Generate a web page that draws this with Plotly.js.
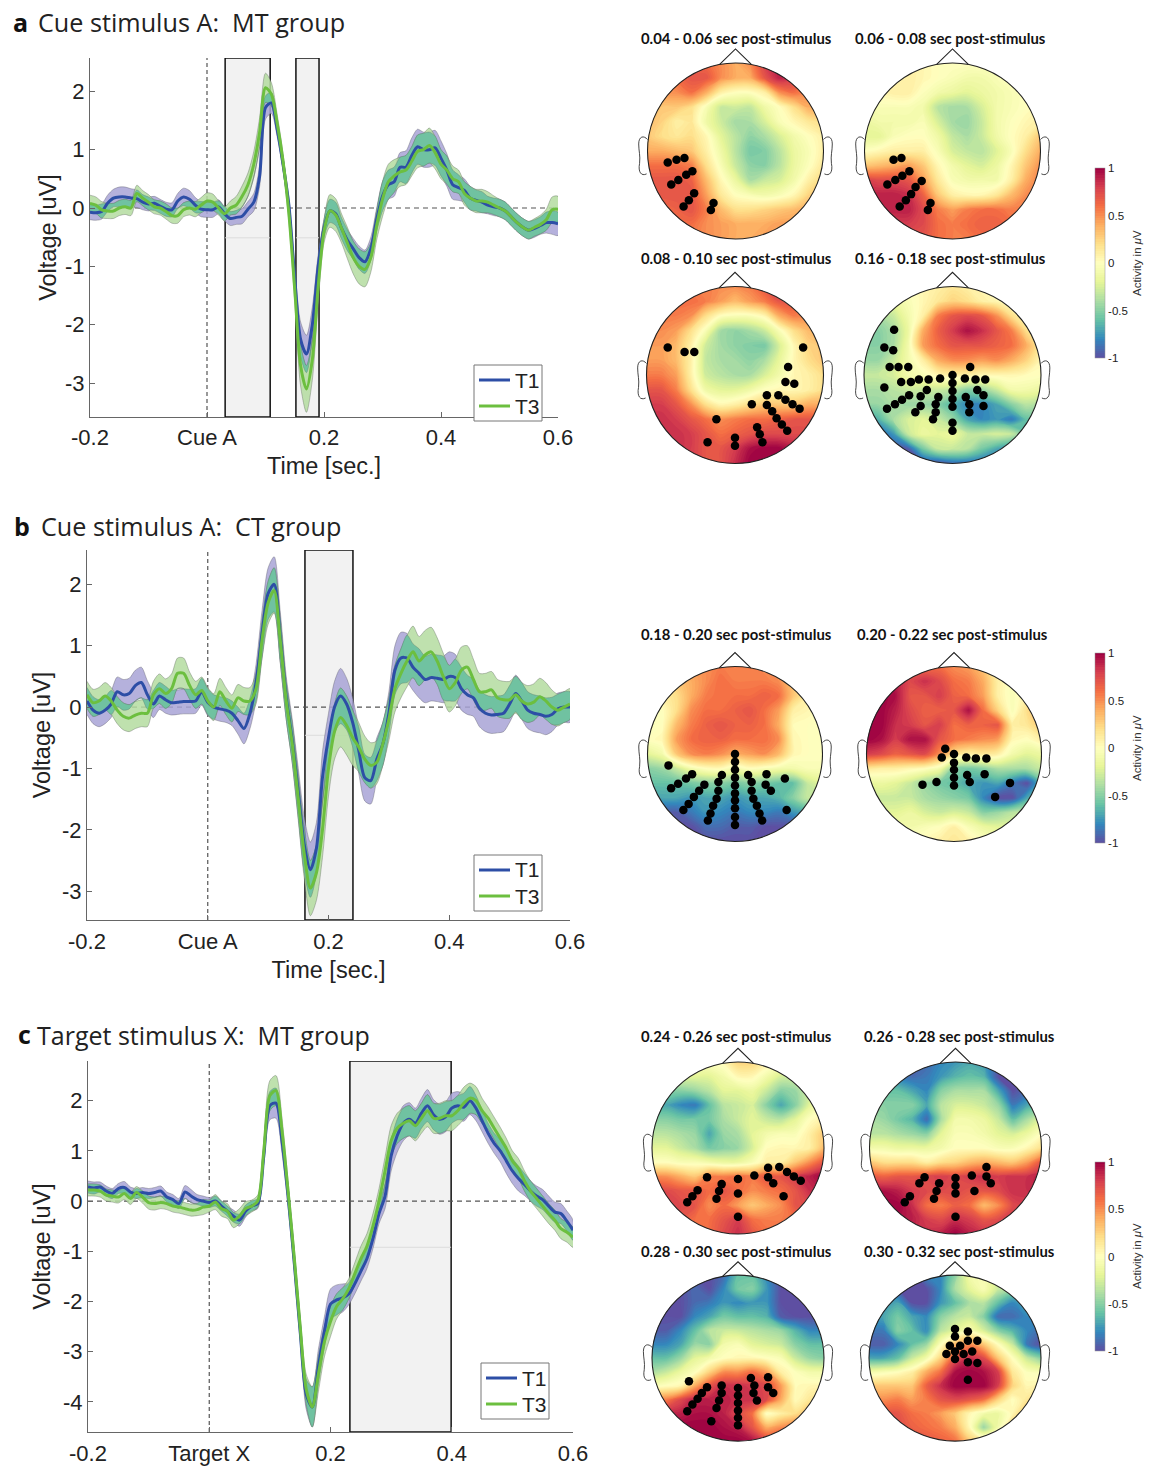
<!DOCTYPE html>
<html><head><meta charset="utf-8">
<script src="https://cdn.plot.ly/plotly-3.0.1.min.js"></script>
<style>html,body{margin:0;padding:0;background:#fff}</style></head>
<body><div id="chart" style="width:1157px;height:1466px"></div>
<script>
const times=[-.20,-.19,-.18,-.17,-.16,-.15,-.14,-.13,-.12,-.11,-.10,-.09,-.08,-.07,-.06,-.05,-.04,-.03,-.02,-.01,0,.01,.02,.03,.04,.05,.06,.07,.08,.09,.10,.11,.12,.13,.14,.15,.16,.17,.18,.19,.20,.21,.22,.23,.24,.25,.26,.27,.28,.29,.30,.31,.32,.33,.34,.35,.36,.37,.38,.39,.40,.41,.42,.43,.44,.45,.46,.47,.48,.49,.50,.51,.52,.53,.54,.55,.56,.57,.58,.59,.60];
// Panel a
const aT1=[-.07,-.08,-.06,.08,.17,.19,.19,.17,.16,.10,.07,.08,.03,-.02,-.03,.12,.19,.15,.05,-.02,-.03,-.03,.02,-.10,-.18,-.16,-.14,-.02,.10,.55,1.72,1.80,1.35,.75,.05,-1.2,-2.25,-2.5,-2.0,-1.0,-.35,-.05,-.1,-.35,-.55,-.7,-.85,-.92,-.7,-.2,.2,.4,.45,.7,.7,.9,1.05,1.0,1.0,1.03,.85,.65,.4,.35,.3,.17,.13,.1,.05,.02,0,-.05,-.15,-.25,-.33,-.38,-.35,-.3,-.25,-.25,-.27];
const aT3=[.08,.05,-.03,-.05,-.05,0,.02,0,.25,.17,.1,.02,0,-.06,-.13,-.13,-.03,0,-.02,.05,.12,.1,0,-.1,0,.05,.2,.4,.75,1.3,2.06,1.95,1.45,.8,-.1,-1.4,-2.7,-3.1,-2.6,-1.35,-.4,-.05,-.12,-.35,-.6,-.85,-1.0,-1.05,-.85,-.3,.15,.45,.55,.62,.65,.8,.97,1.0,1.07,.95,.75,.65,.5,.45,.25,.17,.12,.12,.1,.05,0,-.05,-.15,-.25,-.33,-.38,-.33,-.28,-.2,-.03,-.02];
const aErrT1=[.13,.13,.13,.14,.15,.17,.17,.16,.15,.13,.12,.12,.12,.12,.12,.13,.15,.15,.13,.13,.13,.13,.12,.12,.12,.12,.13,.13,.15,.18,.2,.18,.13,.12,.12,.2,.3,.32,.3,.2,.15,.2,.2,.18,.18,.18,.2,.2,.2,.2,.25,.25,.25,.25,.28,.3,.3,.3,.3,.3,.3,.28,.25,.22,.2,.2,.18,.18,.15,.15,.15,.15,.15,.15,.15,.15,.15,.15,.18,.2,.2];
const aErrT3=[.14,.14,.14,.13,.13,.13,.13,.13,.14,.13,.13,.12,.12,.13,.13,.13,.12,.12,.13,.13,.14,.14,.12,.12,.12,.15,.18,.2,.22,.25,.25,.2,.15,.13,.13,.2,.35,.4,.35,.28,.2,.28,.28,.25,.27,.28,.3,.3,.25,.25,.3,.3,.28,.25,.25,.25,.28,.28,.3,.28,.25,.24,.22,.2,.2,.2,.2,.2,.18,.16,.15,.15,.15,.15,.15,.15,.15,.16,.18,.22,.22];
// Panel b
const bT1=[.1,-.05,-.1,-.05,.05,.25,.2,.22,.35,.4,.2,.05,.18,.12,.07,.08,.09,.09,.1,.25,.08,0,-.03,-.05,-.1,-.22,-.35,-.1,.4,1.2,1.85,2.0,1.15,.15,-.55,-1.4,-2.25,-2.65,-2.3,-1.15,-.5,0,.18,.05,-.25,-.7,-1.15,-1.2,-.85,-.6,-.1,.6,.8,.8,.65,.55,.45,.48,.47,.45,.5,.48,.3,.2,.15,-.02,-.1,-.13,-.12,-.1,.05,.22,.1,-.05,-.1,-.12,-.15,-.12,-.03,0,0];
const bT3=[.2,.07,.1,.18,.1,-.05,-.15,-.18,-.13,-.1,-.1,.2,.3,.22,.3,.55,.55,.35,.2,.27,.1,0,.25,.1,-.02,.15,.1,.1,.3,1.1,1.7,1.9,1.1,.1,-.6,-1.5,-2.4,-2.95,-2.7,-2.0,-1.0,-.4,-.17,-.3,-.5,-.65,-.85,-.95,-.9,-.6,-.2,.3,.55,.75,.9,.75,.85,.9,.75,.5,.3,.4,.6,.65,.45,.25,.25,.28,.15,.12,.12,.2,.1,.05,.08,.17,.1,0,-.05,0,.05];
const bErrT1=[.22,.22,.22,.22,.22,.24,.25,.25,.25,.25,.23,.22,.22,.22,.2,.2,.2,.2,.2,.22,.22,.2,.2,.2,.2,.22,.25,.25,.3,.38,.42,.45,.42,.35,.35,.4,.45,.45,.42,.42,.4,.42,.45,.42,.4,.38,.38,.38,.35,.35,.35,.4,.42,.4,.38,.4,.38,.38,.38,.38,.4,.38,.35,.32,.3,.3,.3,.3,.3,.3,.3,.3,.3,.3,.3,.3,.3,.28,.26,.25,.25];
const bErrT3=[.22,.22,.22,.22,.22,.22,.22,.22,.22,.22,.22,.22,.24,.24,.24,.25,.25,.22,.22,.22,.22,.22,.22,.22,.22,.22,.22,.22,.25,.3,.35,.37,.35,.3,.32,.35,.4,.45,.45,.45,.45,.45,.48,.48,.45,.4,.38,.37,.35,.35,.35,.38,.4,.42,.42,.4,.4,.4,.38,.38,.38,.38,.38,.35,.33,.3,.3,.3,.3,.3,.3,.3,.3,.3,.3,.3,.3,.28,.26,.25,.25];
// Panel c
const cT1=[.28,.26,.28,.2,.15,.25,.27,.18,.15,.17,.15,.17,.2,.08,.03,-.05,.18,.1,.03,0,-.03,0,-.1,-.2,-.3,-.38,-.2,-.1,-.05,.9,1.9,1.95,1.2,.1,-1.2,-2.6,-3.85,-4.1,-3.3,-2.6,-2.05,-1.97,-1.93,-1.85,-1.65,-1.4,-1.15,-.75,-.25,.1,.9,1.3,1.55,1.63,1.55,1.75,1.9,1.72,1.63,1.68,1.85,1.9,1.87,2.0,1.85,1.6,1.35,1.15,1.0,.8,.6,.45,.33,.2,.1,.03,-.1,-.22,-.25,-.4,-.58];
const cT3=[.22,.22,.2,.12,.1,.08,.15,.05,.17,.08,-.03,-.05,-.03,-.05,-.1,-.12,-.15,-.18,-.17,-.12,-.1,-.02,-.15,-.2,-.38,-.3,-.15,-.1,0,1.0,2.1,2.2,1.4,.2,-1.1,-2.5,-3.75,-4.1,-3.45,-2.8,-2.4,-2.1,-1.95,-1.75,-1.45,-1.15,-.9,-.5,0,.6,1.2,1.45,1.55,1.6,1.5,1.65,1.8,1.65,1.65,1.7,1.7,1.8,1.95,2.05,2.0,1.8,1.65,1.45,1.25,1.05,.8,.65,.4,.2,.05,-.1,-.25,-.38,-.55,-.62,-.72];
const cErrT1=[.12,.12,.1,.1,.1,.1,.12,.1,.1,.1,.1,.1,.1,.1,.1,.1,.13,.13,.1,.1,.1,.1,.1,.1,.12,.12,.12,.1,.1,.15,.28,.3,.25,.2,.2,.2,.3,.4,.35,.3,.3,.3,.28,.22,.2,.2,.2,.2,.2,.25,.3,.33,.35,.33,.3,.3,.32,.3,.3,.3,.3,.28,.28,.28,.25,.22,.2,.2,.22,.25,.25,.25,.22,.2,.2,.2,.2,.2,.2,.2,.2];
const cErrT3=[.12,.12,.12,.12,.12,.12,.12,.12,.12,.12,.13,.13,.12,.12,.12,.12,.12,.12,.12,.15,.12,.15,.15,.15,.15,.15,.14,.12,.12,.2,.3,.3,.25,.2,.2,.2,.3,.4,.35,.3,.3,.25,.22,.2,.22,.25,.25,.25,.25,.28,.3,.3,.3,.3,.3,.3,.32,.3,.3,.3,.3,.3,.32,.3,.28,.25,.22,.22,.22,.2,.2,.2,.2,.2,.2,.2,.2,.2,.2,.2,.2];

const seriesNames=['T1','T3'];
const xTickVals=[-.2,0,.2,.4,.6];
const yTicksAB=[-3,-2,-1,0,1,2];
const yTicksC=[-4,-3,-2,-1,0,1,2];

// Topographies: rows run from the front of the head (top) to the back (bottom), columns left to right
const topoGrid=[-1,-.833,-.667,-.5,-.333,-.167,0,.167,.333,.5,.667,.833,1];
const map1=[
[.5,.5,.5,.6,.6,.5,.4,.5,.8,.9,.8,.5,.5],
[.5,.5,.6,.7,.7,.5,.4,.4,.7,.9,.8,.5,.5],
[.5,.5,.5,.6,.4,.1,0,0,.1,.5,.6,.5,.4],
[.4,.3,.3,.2,-.05,-.3,-.28,-.32,-.12,0,.2,.4,.4],
[.35,.25,.1,.15,-.12,-.28,-.42,-.4,-.25,-.05,.05,.15,.2],
[.3,.2,.15,.2,.05,-.2,-.35,-.48,-.4,-.25,-.1,0,.1],
[.4,.4,.35,.3,.1,-.12,-.35,-.55,-.52,-.35,-.15,-.05,.1],
[.6,.6,.6,.55,.2,-.05,-.3,-.48,-.5,-.35,-.15,-.02,.15],
[.7,.7,.7,.65,.35,.05,-.15,-.4,-.3,-.25,-.1,.1,.25],
[.7,.7,.7,.7,.45,.15,0,-.05,-.1,-.05,.05,.25,.4],
[.6,.6,.65,.7,.55,.35,.2,.2,.25,.3,.35,.4,.45],
[.5,.5,.6,.6,.5,.45,.4,.4,.4,.45,.45,.5,.5],
[.5,.5,.5,.55,.5,.45,.4,.4,.45,.45,.5,.5,.5]];
const map2=[
[.1,.1,.1,.1,.05,0,0,0,0,-.05,0,.05,.1],
[.1,.1,.1,.1,.05,0,-.05,-.1,-.1,-.05,0,.05,.1],
[0,.05,.1,.1,-.02,-.1,-.15,-.2,-.15,-.1,-.05,0,.05],
[-.1,-.05,-.05,-.05,-.1,-.35,-.42,-.4,-.25,-.1,-.05,0,.05],
[-.15,-.1,-.1,-.1,-.05,-.25,-.42,-.45,-.3,-.1,-.02,.05,.1],
[-.2,-.2,-.05,0,0,-.12,-.32,-.4,-.3,-.12,0,.1,.3],
[0,.05,.1,.1,.1,-.05,-.25,-.32,-.35,-.22,-.05,.2,.4],
[.3,.35,.4,.45,.3,.05,-.1,-.2,-.25,-.15,.05,.3,.5],
[.8,.75,.75,.7,.45,.15,-.05,-.1,-.1,-.1,.1,.4,.55],
[.9,.9,.9,.85,.65,.3,.1,.05,.05,.15,.35,.5,.6],
[.9,.9,.9,.9,.75,.55,.45,.55,.6,.6,.55,.55,.6],
[.8,.8,.8,.8,.75,.6,.55,.6,.65,.65,.6,.6,.6],
[.7,.7,.7,.7,.7,.6,.55,.55,.6,.6,.6,.6,.6]];
const map3=[
[.6,.6,.6,.55,.55,.5,.5,.55,.7,.75,.7,.6,.6],
[.6,.6,.6,.6,.55,.45,.35,.45,.55,.7,.7,.6,.55],
[.55,.55,.55,.5,.2,0,-.05,-.05,.05,.4,.55,.5,.45],
[.5,.5,.45,.2,-.05,-.42,-.48,-.42,-.3,-.05,.2,.35,.4],
[.45,.45,.35,.1,-.28,-.42,-.48,-.52,-.55,-.25,.05,.25,.3],
[.45,.45,.35,.1,-.32,-.4,-.42,-.48,-.4,-.18,.05,.2,.3],
[.55,.55,.45,.1,-.28,-.35,-.4,-.4,-.25,-.1,.05,.1,.2],
[.7,.7,.55,.2,-.12,-.2,-.2,-.12,0,.05,.05,.1,.2],
[.8,.8,.7,.5,.2,.05,.1,.2,.3,.3,.3,.4,.4],
[.85,.85,.8,.7,.6,.5,.55,.6,.6,.65,.7,.7,.7],
[.85,.85,.85,.8,.7,.6,.65,.7,.75,.75,.75,.75,.75],
[.85,.85,.85,.8,.7,.7,.8,.95,1,1,.9,.8,.8],
[.8,.8,.8,.8,.7,.7,.85,1,1,1,.9,.85,.8]];
const map4=[
[0,0,0,0,.05,.1,.15,.1,.05,0,0,0,0],
[-.2,-.2,-.15,-.05,.05,.15,.25,.2,.1,.05,0,0,0],
[-.4,-.4,-.3,-.1,.1,.55,.7,.75,.7,.5,.2,.05,0],
[-.5,-.5,-.4,-.15,.4,.65,.8,.95,.85,.7,.55,.2,.05],
[-.5,-.5,-.4,-.1,.45,.6,.7,.7,.7,.65,.6,.4,.1],
[-.45,-.45,-.3,-.1,.1,.4,.5,.5,.45,.5,.4,.25,.05],
[-.3,-.3,-.25,-.1,-.05,.05,.1,.1,.05,.05,.05,.02,0],
[-.4,-.4,-.35,-.3,-.3,-.3,-.35,-.5,-.45,-.3,-.1,-.1,-.15],
[-.45,-.45,-.4,-.45,-.45,-.5,-.65,-.8,-.8,-.7,-.5,-.35,-.4],
[-.8,-.65,-.4,-.25,-.2,-.3,-.45,-.7,-.8,-.75,-.85,-.6,-.6],
[-1,-.95,-.75,-.3,-.15,-.2,-.15,-.3,-.3,-.25,-.3,-.6,-.8],
[-1,-1,-1,-.95,-.55,-.3,-.3,-.35,-.55,-.7,-.85,-.9,-.9],
[-1,-1,-1,-1,-1,-1,-.9,-.9,-.9,-.9,-.9,-.9,-.9]];
const map5=[
[.4,.4,.4,.45,.5,.55,.55,.55,.5,.4,.3,.1,0],
[.1,.2,.3,.4,.5,.6,.55,.55,.55,.5,.3,.1,0],
[0,.1,.2,.4,.55,.6,.6,.6,.65,.6,.3,.1,0],
[-.05,0,.2,.5,.6,.6,.65,.7,.6,.45,.1,.05,0],
[-.05,0,.35,.55,.65,.7,.65,.65,.6,.4,.02,0,0],
[0,.05,.45,.6,.65,.65,.6,.6,.6,.5,.05,0,0],
[-.2,-.1,.3,.5,.55,.5,.4,.45,.5,.35,.05,0,0],
[-.5,-.45,-.3,-.1,0,.02,-.1,0,-.05,-.1,-.1,-.05,-.05],
[-.6,-.6,-.6,-.55,-.5,-.5,-.55,-.5,-.55,-.6,-.6,-.3,-.2],
[-.75,-.7,-.7,-.75,-.7,-.7,-.75,-.7,-.7,-.65,-.5,-.3,-.3],
[-1,-.95,-.95,-.85,-.75,-.8,-.85,-.8,-.8,-.85,-.75,-.7,-.7],
[-1,-1,-1,-1,-.9,-.9,-.95,-.95,-1,-1,-1,-.95,-.9],
[-1,-1,-1,-1,-1,-1,-1,-1,-1,-1,-1,-1,-1]];
const map6=[
[1,1,.9,.7,.6,.6,.5,.45,.3,.05,0,.05,.05],
[1,1,.9,.75,.85,.75,.6,.55,.4,.1,-.05,.05,.1],
[1,1,.95,.7,.7,.8,.65,.6,.45,.1,-.05,.1,.3],
[1,1,.9,.75,.65,.65,.7,.95,.6,.25,-.05,.2,.4],
[1,1,.85,.8,.7,.8,.6,.65,.65,.7,.1,.15,.3],
[1,.95,.8,.95,.95,.7,.6,.55,.5,.45,.05,0,.1],
[.8,.75,.65,.7,.75,.5,.2,.1,.15,.1,-.1,-.2,-.15],
[.15,.1,.1,.05,0,-.1,-.5,-.55,-.5,-.4,-.4,-.4,-.3],
[-.2,-.15,-.2,-.3,-.45,-.55,-.6,-.7,-.75,-.7,-.85,-1,-.6],
[-.3,-.3,-.3,-.3,-.4,-.45,-.5,-.55,-.8,-1,-1,-.7,-.5],
[-.2,-.2,-.2,-.15,-.25,-.3,-.25,-.3,-.5,-.45,-.35,-.3,-.2],
[-.1,-.1,-.1,-.1,-.05,0,.1,-.05,-.15,-.2,-.2,-.15,-.1],
[-.05,-.05,-.05,0,.05,.1,.15,.1,0,-.05,-.05,-.05,-.05]];
const map7=[
[.1,.1,.1,0,0,.05,.25,.25,.1,0,-.1,-.1,-.1],
[-.2,-.2,-.2,-.2,-.2,-.1,.05,.05,-.1,-.25,-.25,-.2,-.1],
[-.5,-.5,-.5,-.45,-.35,-.2,-.2,-.15,-.3,-.5,-.45,-.25,-.1],
[-.7,-.7,-.8,-.85,-.6,-.35,-.3,-.25,-.5,-.7,-.5,-.2,-.05],
[-.5,-.5,-.55,-.55,-.55,-.4,-.3,-.2,-.3,-.35,-.2,0,.1],
[-.35,-.35,-.4,-.45,-.7,-.45,-.4,-.2,-.1,-.05,-.05,.1,.3],
[-.2,-.2,-.3,-.4,-.55,-.5,-.45,-.25,.02,.05,.05,.1,.35],
[0,0,-.05,-.05,-.1,-.15,-.15,-.05,.1,.1,.3,.5,.7],
[.5,.5,.4,.3,.55,.55,.6,.55,.7,.7,.8,.9,1],
[.8,.75,.7,.7,.6,.7,.6,.5,.55,.6,.7,.85,.9],
[.8,.8,.75,.7,.5,.6,.45,.3,.4,.5,.7,.75,.7],
[.8,.8,.7,.6,.6,.7,.8,.6,.55,.55,.6,.6,.6],
[.7,.7,.7,.6,.6,.75,.85,.7,.6,.6,.6,.6,.6]];
const map8=[
[-.9,-.9,-.9,-.9,-.9,-.8,-.75,-.7,-.75,-.9,-1,-1,-1],
[-.8,-.8,-.85,-.9,-.85,-.75,-.65,-.6,-.65,-1,-1,-1,-1],
[-.6,-.6,-.6,-.7,-.8,-.5,-.4,-.4,-.4,-.7,-1,-.9,-.7],
[-.5,-.5,-.5,-.5,-.7,-.35,-.25,-.25,-.3,-.45,-.85,-.7,-.6],
[-.4,-.45,-.55,-.65,-.9,-.4,-.1,-.1,-.15,-.3,-.6,-.4,-.2],
[-.35,-.35,-.4,-.45,-.5,-.2,-.05,-.05,-.1,-.2,-.25,-.15,0],
[-.1,-.1,-.15,-.15,-.15,-.1,0,0,0,-.05,-.05,.05,.2],
[.3,.2,.2,.2,.1,.2,.25,.35,.4,.35,.3,.45,.7],
[.7,.65,.7,.7,.75,.8,.75,.8,.85,.8,.85,.85,.9],
[.95,.95,.9,.8,.75,.75,.75,.7,.7,.75,.85,.85,.9],
[1,1,1,.85,.6,.55,.65,.6,.35,.5,.75,.8,.8],
[.9,.9,.95,.9,.8,.75,.85,.8,.7,.75,.8,.8,.8],
[.85,.85,.85,.85,.85,.9,1,.9,.85,.85,.85,.85,.85]];
const map9=[
[-1,-1,-1,-1,-1,-.9,-.6,-.6,-.8,-1,-1,-1,-1],
[-1,-1,-1,-.9,-1,-.8,-.55,-.5,-.75,-1,-1,-1,-1],
[-1,-1,-1,-.9,-.85,-.75,-.8,-.75,-.75,-1,-1,-1,-1],
[-1,-1,-1,-.8,-.7,-.55,-.6,-.6,-.65,-.95,-1,-1,-1],
[-.95,-.95,-.8,-.6,-.35,-.3,-.3,-.35,-.4,-.45,-.65,-.8,-.8],
[-.8,-.8,-.7,-.45,-.5,-.1,-.05,-.2,-.25,-.3,-.5,-.6,-.6],
[-.6,-.6,-.45,-.2,-.1,0,.05,.05,0,-.05,-.3,-.45,-.5],
[-.4,-.3,-.15,-.02,.25,.5,.5,.6,.45,.1,-.02,-.1,-.1],
[-.05,0,.05,.4,.7,.85,.85,.8,.75,.45,.02,.05,.05],
[.5,.55,.75,.9,.9,.9,.85,.85,.75,.4,.02,.15,.2],
[.9,.9,.9,.95,.95,.9,.75,.6,-.02,.1,.2,.35,.35],
[1,1,1,1,1,.95,.9,.7,.4,.5,.6,.6,.6],
[1,1,1,1,1,1,1,.95,.8,.8,.8,.8,.8]];
const map10=[
[-1,-1,-1,-1,-.8,-.8,-.5,-.1,-.05,-.3,-.5,-.5,-.5],
[-1,-1,-1,-1,-1,-.8,-.4,-.2,-.05,-.3,-.45,-.5,-.5],
[-.7,-.75,-.7,-1,-1,-.75,-.6,-.4,-.35,-.6,-.8,-.7,-.6],
[-.7,-.7,-.55,-.7,-.8,-.5,-.35,-.3,-.5,-.9,-.9,-.8,-.8],
[-.85,-.85,-.5,-.6,-.8,-.35,-.2,-.05,-.25,-.5,-.65,-.8,-.9],
[-.95,-.95,-.8,-.6,-.45,-.02,.35,.5,.3,0,-.3,-.85,-1],
[-.7,-.7,-.6,-.3,-.1,.25,.7,.85,.75,.3,0,-.3,-.5],
[-.1,-.05,0,.1,.4,.6,.95,1,.95,.8,.15,-.02,-.05],
[.3,.3,.3,.3,.65,.85,1,1,1,.8,.25,.05,.1],
[.5,.5,.55,.45,.55,.7,.75,.7,.6,.25,0,.15,.25],
[.65,.7,.7,.6,.55,.45,.3,.05,-.1,-.15,.05,.35,.4],
[.8,.8,.75,.65,.6,.55,.4,.05,-.45,-.1,.3,.45,.5],
[.8,.8,.8,.75,.7,.65,.6,.3,.2,.3,.5,.6,.6]];

// Significant electrodes in head units
const elec1=[[-.77,-.13],[-.67,-.1],[-.58,-.08],[-.73,-.38],[-.65,-.33],[-.56,-.27],[-.49,-.23],[-.47,-.48],[-.53,-.56],[-.59,-.63],[-.25,-.59],[-.28,-.67]];
const elec2=[[-.67,-.1],[-.58,-.08],[-.74,-.38],[-.65,-.33],[-.57,-.28],[-.49,-.23],[-.35,-.34],[-.42,-.41],[-.47,-.49],[-.53,-.56],[-.6,-.63],[-.25,-.59],[-.28,-.67]];
const elec3=[[-.76,.31],[-.57,.26],[-.46,.26],[.77,.31],[.6,.09],[.57,-.08],[.67,-.1],[.36,-.23],[.49,-.23],[.57,-.28],[.65,-.33],[.73,-.38],[.19,-.33],[.36,-.34],[.42,-.41],[.47,-.49],[.53,-.56],[.59,-.63],[.25,-.59],[.28,-.67],[.31,-.76],[-.21,-.5],[-.31,-.76],[0,-.71],[0,-.8]];
const elec4=[[-.66,.51],[-.77,.31],[-.67,.28],[-.71,.09],[-.61,.09],[-.5,.09],[.2,.09],[0,0],[0,-.09],[0,-.18],[0,-.27],[0,-.36],[0,-.54],[0,-.63],[-.58,-.08],[-.47,-.08],[-.38,-.05],[-.27,-.05],[-.14,-.04],[.14,-.04],[.26,-.05],[.37,-.05],[-.77,-.14],[-.29,-.17],[.28,-.17],[-.49,-.23],[-.36,-.24],[-.16,-.25],[.15,-.25],[.35,-.23],[-.57,-.28],[-.65,-.33],[-.74,-.38],[-.36,-.35],[-.19,-.33],[.19,-.33],[.35,-.35],[-.42,-.42],[-.19,-.42],[.19,-.42],[-.22,-.5]];
const elec5=[[-.76,-.13],[-.73,-.39],[-.65,-.34],[-.56,-.28],[-.49,-.23],[-.15,-.24],[0,0],[0,-.09],[0,-.18],[0,-.27],[0,-.36],[0,-.45],[0,-.53],[0,-.62],[0,-.72],[0,-.81],[.15,-.24],[.36,-.23],[.57,-.28],[.19,-.32],[.35,-.35],[.41,-.42],[-.35,-.35],[-.41,-.42],[-.47,-.49],[-.53,-.57],[-.59,-.64],[-.19,-.32],[-.19,-.42],[-.21,-.51],[-.25,-.59],[-.28,-.68],[-.31,-.76],[.19,-.42],[.21,-.51],[.25,-.59],[.28,-.68],[.31,-.76],[.59,-.64]];
const elec6=[[-.1,.06],[-.14,-.04],[0,0],[0,-.1],[0,-.18],[0,-.27],[0,-.36],[.14,-.04],[.25,-.05],[.37,-.05],[.15,-.24],[.35,-.23],[.18,-.32],[-.36,-.35],[-.2,-.32],[.64,-.33],[.47,-.49]];
const elec7=[[-.36,-.34],[-.47,-.49],[-.53,-.56],[-.59,-.63],[-.19,-.42],[-.22,-.5],[-.25,-.59],[0,-.36],[0,-.53],[0,-.8],[.19,-.32],[.35,-.23],[.48,-.22],[.57,-.28],[.65,-.33],[.73,-.38],[.35,-.34],[.41,-.41],[.53,-.56]];
const elec8=[[-.36,-.34],[-.42,-.41],[-.53,-.56],[-.59,-.63],[-.19,-.41],[-.22,-.5],[-.25,-.59],[0,-.35],[0,-.44],[0,-.53],[0,-.8],[.19,-.32],[.36,-.22],[.36,-.33],[.41,-.41],[.22,-.5]];
const elec9=[[-.57,-.28],[-.36,-.35],[-.42,-.42],[-.47,-.49],[-.53,-.56],[-.59,-.64],[-.19,-.33],[-.19,-.42],[-.22,-.51],[-.25,-.6],[-.31,-.76],[0,-.36],[0,-.45],[0,-.54],[0,-.63],[0,-.72],[0,-.81],[.15,-.24],[.19,-.33],[.18,-.42],[.22,-.51],[.35,-.23],[.35,-.35],[.41,-.42]];
const elec10=[[0,.35],[.15,.32],[0,.26],[.15,.21],[.26,.21],[-.06,.15],[.06,.15],[-.1,.05],[0,.08],[.1,.05],[.2,.08],[0,-.01],[.15,-.05],[.26,-.06],[.15,-.26]];

const W=1157,H=1466;
const px=(v)=>v/W, py=(v)=>1-v/H;
const traces=[],shapes=[],annotations=[],layout={};
const C1='#2d4ea6',C3='#6cbf3f';
const sans='"Liberation Sans",Arial,sans-serif', title='"Open Sans",sans-serif', bold='Lato,"Open Sans",sans-serif';

function band(xa,ya,lo,hi,color,edge){
  traces.push({x:times.concat(times.slice().reverse()),y:hi.concat(lo.slice().reverse()),xaxis:xa,yaxis:ya,type:'scatter',mode:'lines',
    fill:'toself',fillcolor:color,line:{color:edge,width:.7,shape:'spline',smoothing:.8},hoverinfo:'skip',showlegend:false});
}
function panel(i,p){
  const xa=i?'x'+(i+1):'x', ya=i?'y'+(i+1):'y', sfx=i?String(i+1):'';
  const lo1=p.t1.map((v,k)=>v-p.e1[k]), hi1=p.t1.map((v,k)=>v+p.e1[k]);
  const lo3=p.t3.map((v,k)=>v-p.e3[k]), hi3=p.t3.map((v,k)=>v+p.e3[k]);
  const loB=lo1.map((v,k)=>Math.max(v,lo3[k]));
  const hiB=hi1.map((v,k)=>Math.max(Math.min(v,hi3[k]),loB[k]));
  band(xa,ya,lo1,hi1,'rgba(168,163,214,.85)','rgba(90,90,100,.55)');
  band(xa,ya,lo3,hi3,'rgba(180,220,160,.85)','rgba(90,100,90,.55)');
  band(xa,ya,loB,hiB,'rgba(104,192,160,.9)','rgba(90,110,100,.45)');
  [p.t1,p.t3].forEach((v,k)=>traces.push({x:times,y:v,xaxis:xa,yaxis:ya,type:'scatter',mode:'lines',name:seriesNames[k],showlegend:false,
    line:{color:k?C3:C1,width:3,shape:'spline',smoothing:.8},hoverinfo:'skip'}));
  layout['xaxis'+sfx]={domain:[px(p.x0),px(p.x1)],anchor:ya,range:[-.2,.6],tickmode:'array',tickvals:xTickVals,ticktext:['-0.2',p.event,'0.2','0.4','0.6'],
    ticks:'inside',ticklen:5,tickcolor:'#666',showgrid:false,zeroline:false,showline:true,linecolor:'#666',linewidth:1,ticklabelstandoff:p.xs,
    tickfont:{family:sans,size:22,color:'#222'},title:p.xTitle?{text:'Time [sec.]',font:{family:sans,size:23.5,color:'#222'},standoff:8}:undefined,fixedrange:true};
  layout['yaxis'+sfx]={domain:[py(p.y1),py(p.y0)],anchor:xa,range:p.yr,tickmode:'array',tickvals:p.yt,ticktext:p.yt.map(String),
    ticks:'inside',ticklen:5,tickcolor:'#666',showgrid:false,zeroline:false,showline:true,linecolor:'#666',linewidth:1,
    tickfont:{family:sans,size:22,color:'#222'},title:{text:'Voltage [uV]',font:{family:sans,size:23.5,color:'#222'},standoff:p.ys},fixedrange:true};
  p.rects.forEach(r=>{
    shapes.push({type:'rect',xref:xa,yref:ya,x0:r[0],x1:r[1],y0:p.yr[0],y1:p.yr[1],fillcolor:'#f2f2f2',line:{color:'#111',width:1.5},layer:'below'});
    shapes.push({type:'line',xref:xa,yref:ya,x0:r[0],x1:r[1],y0:p.faint,y1:p.faint,line:{color:'#dcdcdc',width:1},layer:'below'});
  });
  shapes.push({type:'line',xref:xa,yref:ya,x0:0,x1:0,y0:p.yr[0],y1:p.yr[1],line:{color:'#555',width:1.2,dash:'4px,3px'},layer:'below'});
  shapes.push({type:'line',xref:xa,yref:ya,x0:-.2,x1:.6,y0:0,y1:0,line:{color:'#555',width:1.2,dash:'5px,4px'},layer:'below'});
  // key box
  const L=p.lx,T=p.ly;
  shapes.push({type:'rect',xref:'paper',yref:'paper',x0:px(L),x1:px(L+68),y0:py(T+56),y1:py(T),fillcolor:'#fff',line:{color:'#777',width:1},layer:'above'});
  seriesNames.forEach((nm,k)=>{
    const yy=T+15+26*k;
    shapes.push({type:'line',xref:'paper',yref:'paper',x0:px(L+5),x1:px(L+36),y0:py(yy),y1:py(yy),line:{color:k?C3:C1,width:3},layer:'above'});
    annotations.push({xref:'paper',yref:'paper',x:px(L+39),y:py(yy),xanchor:'left',yanchor:'middle',showarrow:false,text:nm,font:{family:sans,size:21,color:'#222'}});
  });
}
panel(0,{t1:aT1,t3:aT3,e1:aErrT1,e3:aErrT3,x0:90,x1:558,y0:58,y1:417,yr:[-3.58,2.57],yt:yTicksAB,event:'Cue A',xTitle:true,rects:[[.031,.108],[.152,.1915]],faint:-.51,lx:474,ly:365,xs:1,ys:1});
panel(1,{t1:bT1,t3:bT3,e1:bErrT1,e3:bErrT3,x0:87,x1:570,y0:550,y1:920,yr:[-3.47,2.56],yt:yTicksAB,event:'Cue A',xTitle:true,rects:[[.161,.2405]],faint:-.46,lx:474,ly:855,xs:2,ys:4});
panel(2,{t1:cT1,t3:cT3,e1:cErrT1,e3:cErrT3,x0:88,x1:573,y0:1061,y1:1432,yr:[-4.6,2.79],yt:yTicksC,event:'Target X',xTitle:false,rects:[[.232,.399]],faint:-.92,lx:481,ly:1363,xs:2,ys:5});

const spectral=[[0,'#5e4fa2'],[.1,'#3288bd'],[.2,'#66c2a5'],[.3,'#abdda4'],[.4,'#e6f598'],[.5,'#ffffbf'],[.6,'#fee08b'],[.7,'#fdae61'],[.8,'#f46d43'],[.9,'#d53e4f'],[1,'#9e0142']];
const k=.5523;
const circlePath=`M 1 0 C 1 ${k} ${k} 1 0 1 C ${-k} 1 -1 ${k} -1 0 C -1 ${-k} ${-k} -1 0 -1 C ${k} -1 1 ${-k} 1 0 Z`;
const maskPath=`M -1.12 -1.12 L 1.12 -1.12 L 1.12 1.12 L -1.12 1.12 Z `+circlePath;
function topo(n,z,el,label,cx,cy,R,cb,tx,ty){
  const id=n+3, xa='x'+id, ya='y'+id;
  const tr={type:'contour',x:topoGrid,y:topoGrid,z:z.slice().reverse(),zauto:false,zmin:-1,zmax:1,autocontour:false,contours:{start:-1,end:1,size:.025,coloring:'fill',showlines:false},line:{width:0,smoothing:1},colorscale:spectral,xaxis:xa,yaxis:ya,hoverinfo:'skip',showscale:!!cb};
  if(cb) tr.colorbar={x:px(cb.x),xanchor:'left',xpad:0,y:py(cb.top),yanchor:'top',ypad:0,thicknessmode:'pixels',thickness:10,lenmode:'pixels',len:cb.bot-cb.top,
    tickmode:'array',tickvals:[-1,-.5,0,.5,1],ticktext:['-1','-0.5','0','0.5','1'],ticks:'',ticklabelposition:'outside',tickfont:{family:sans,size:11.5,color:'#222'},outlinecolor:'#999',outlinewidth:.5,borderwidth:0};
  traces.push(tr);
  traces.push({type:'scatter',mode:'markers',x:el.map(e=>e[0]),y:el.map(e=>e[1]),xaxis:xa,yaxis:ya,marker:{color:'#000',size:8.5},hoverinfo:'skip',showlegend:false});
  const D=1.3*R;
  layout['xaxis'+id]={domain:[px(cx-D),px(cx+D)],anchor:ya,range:[-1.3,1.3],visible:false,fixedrange:true};
  layout['yaxis'+id]={domain:[py(cy+D),py(cy-D)],anchor:xa,range:[-1.3,1.3],visible:false,fixedrange:true};
  const line={color:'#222',width:1.1};
  shapes.push({type:'path',xref:xa,yref:ya,path:maskPath,fillcolor:'#fff',line:{width:0},layer:'above'});
  shapes.push({type:'circle',xref:xa,yref:ya,x0:-1,x1:1,y0:-1,y1:1,line:line,layer:'above'});
  shapes.push({type:'path',xref:xa,yref:ya,path:'M -.18 .985 L 0 1.16 L .18 .985',line:line,layer:'above'});
  [-1,1].forEach(s=>shapes.push({type:'path',xref:xa,yref:ya,
    path:`M ${s} .13 C ${s*1.04} .18 ${s*1.1} .17 ${s*1.1} .08 C ${s*1.1} 0 ${s*1.08} -.05 ${s*1.09} -.14 C ${s*1.11} -.24 ${s*1.07} -.29 ${s*1.01} -.26`,line:{color:'#333',width:.9},layer:'above'}));
  annotations.push({xref:'paper',yref:'paper',x:px(tx),y:py(ty),xanchor:'center',yanchor:'middle',showarrow:false,text:label,font:{family:bold,size:14.85,color:'#111',weight:700}});
}
const cbA={x:1095,top:168,bot:358},cbB={x:1095,top:653,bot:843},cbC={x:1095,top:1162,bot:1351};
topo(1,map1,elec1,'0.04 - 0.06 sec post-stimulus',735.5,151,88,null,736.5,38);
topo(2,map2,elec2,'0.06 - 0.08 sec post-stimulus',952.5,151,88,cbA,950,38);
topo(3,map3,elec3,'0.08 - 0.10 sec post-stimulus',735,375,88.5,null,736.5,258);
topo(4,map4,elec4,'0.16 - 0.18 sec post-stimulus',952.5,375,88.5,null,950,258);
topo(5,map5,elec5,'0.18 - 0.20 sec post-stimulus',735,754,87.5,null,736.5,634);
topo(6,map6,elec6,'0.20 - 0.22 sec post-stimulus',954,754,87.5,cbB,952,634);
topo(7,map7,elec7,'0.24 - 0.26 sec post-stimulus',738,1148,86,null,736.5,1036);
topo(8,map8,elec8,'0.26 - 0.28 sec post-stimulus',955.5,1148,86,cbC,959,1036);
topo(9,map9,elec9,'0.28 - 0.30 sec post-stimulus',738,1362,86,null,736.5,1251);
topo(10,map10,elec10,'0.30 - 0.32 sec post-stimulus',955,1362,86,null,959,1251);
[[cbA,263],[cbB,748],[cbC,1256]].forEach(a=>annotations.push({xref:'paper',yref:'paper',x:px(1137),y:py(a[1]),xanchor:'center',yanchor:'middle',textangle:-90,showarrow:false,
  text:'Activity in <i>μ</i>V',font:{family:sans,size:11.5,color:'#333'}}));
[['a',20,22,'Cue stimulus A:  MT group',36,22,25.2],['b',22,526,'Cue stimulus A:  CT group',39,526,25.2],['c',24,1034,'Target stimulus X:  MT group',35,1035,25]].forEach(t=>{
  annotations.push({xref:'paper',yref:'paper',x:px(t[1]),y:py(t[2]),xanchor:'center',yanchor:'middle',showarrow:false,text:'<b>'+t[0]+'</b>',font:{family:title,size:25,color:'#111'}});
  annotations.push({xref:'paper',yref:'paper',x:px(t[4]),y:py(t[5]),xanchor:'left',yanchor:'middle',showarrow:false,text:t[3],font:{family:title,size:t[6],color:'#222'}});
});
Object.assign(layout,{width:W,height:H,margin:{l:0,r:0,t:0,b:0,autoexpand:false},paper_bgcolor:'#fff',plot_bgcolor:'rgba(0,0,0,0)',shapes,annotations,showlegend:false,hovermode:false});
Plotly.newPlot('chart',traces,layout,{displayModeBar:false,staticPlot:true});
</script></body></html>
